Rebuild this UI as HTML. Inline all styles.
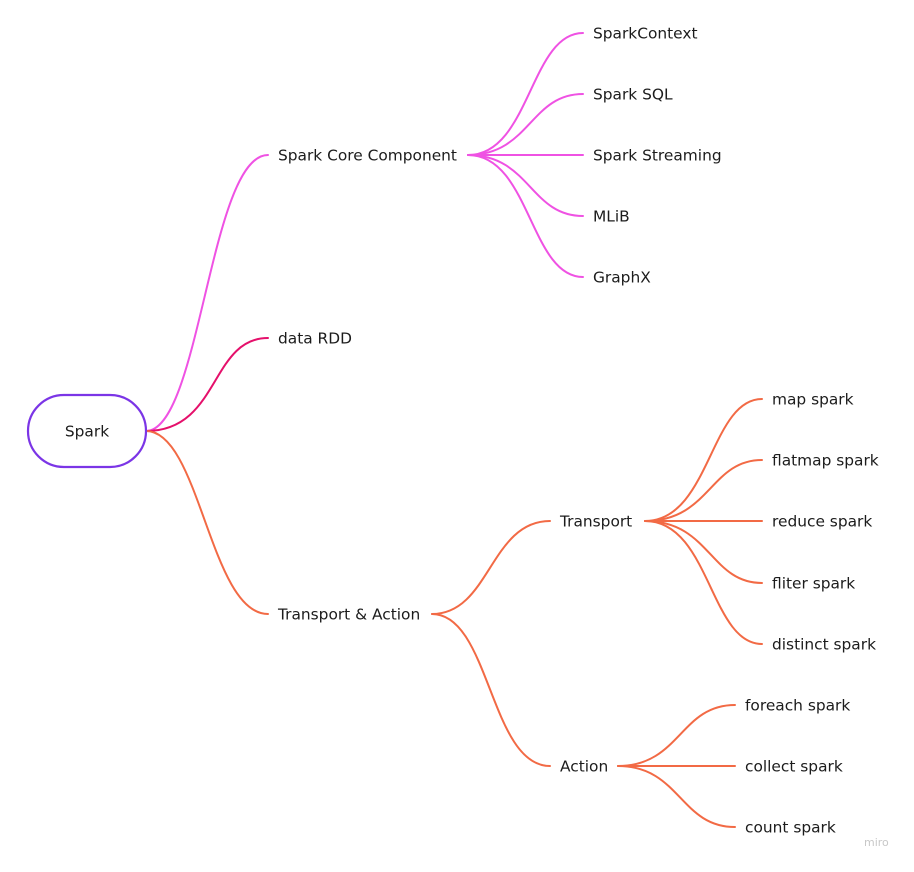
<!DOCTYPE html>
<html><head><meta charset="utf-8"><style>
html,body{margin:0;padding:0;background:#fff;}
svg text{font-family:"DejaVu Sans","Liberation Sans",sans-serif;font-size:15.4px;fill:#1c1c1c;dominant-baseline:middle;}
</style></head><body>
<svg width="914" height="867" viewBox="0 0 914 867" xmlns="http://www.w3.org/2000/svg">
<g fill="none" stroke-width="2" stroke-linecap="round">
<g stroke="#ef52e3">
<path d="M146 431 C200 431,210 155,268 155"/>
<path d="M468 155 C530 155,530 33,583 33"/>
<path d="M468 155 C530 155,530 94,583 94"/>
<path d="M468 155 L583 155"/>
<path d="M468 155 C530 155,530 216,583 216"/>
<path d="M468 155 C530 155,530 277,583 277"/>
</g>
<path stroke="#e5106b" d="M146 431 C220 431,210 338,268 338"/>
<g stroke="#f26a45">
<path d="M146 431 C200 431,210 614,268 614"/>
<path d="M432 614 C490 614,490 521,550 521"/>
<path d="M432 614 C490 614,490 766,550 766"/>
<path d="M645 521 C710 521,710 399,762 399"/>
<path d="M645 521 C710 521,710 460,762 460"/>
<path d="M645 521 L762 521"/>
<path d="M645 521 C710 521,710 583,762 583"/>
<path d="M645 521 C710 521,710 644,762 644"/>
<path d="M618 766 C680 766,680 705,735 705"/>
<path d="M618 766 L735 766"/>
<path d="M618 766 C680 766,680 827,735 827"/>
</g>
<rect x="28" y="395" width="118" height="72" rx="36" stroke="#7b35e6" stroke-width="2.2"/>
</g>
<text x="87" y="432" text-anchor="middle">Spark</text>
<text x="278" y="156">Spark Core Component</text>
<text x="278" y="339">data RDD</text>
<text x="278" y="615">Transport &amp; Action</text>
<text x="593" y="34">SparkContext</text>
<text x="593" y="95">Spark SQL</text>
<text x="593" y="156">Spark Streaming</text>
<text x="593" y="217">MLiB</text>
<text x="593" y="278">GraphX</text>
<text x="560" y="522">Transport</text>
<text x="560" y="767">Action</text>
<text x="772" y="400">map spark</text>
<text x="772" y="461">flatmap spark</text>
<text x="772" y="522">reduce spark</text>
<text x="772" y="584">fliter spark</text>
<text x="772" y="645">distinct spark</text>
<text x="745" y="706">foreach spark</text>
<text x="745" y="767">collect spark</text>
<text x="745" y="828">count spark</text>
<text x="864" y="843" style="font-size:11px;fill:#c8c8c8">miro</text>
</svg>
</body></html>
